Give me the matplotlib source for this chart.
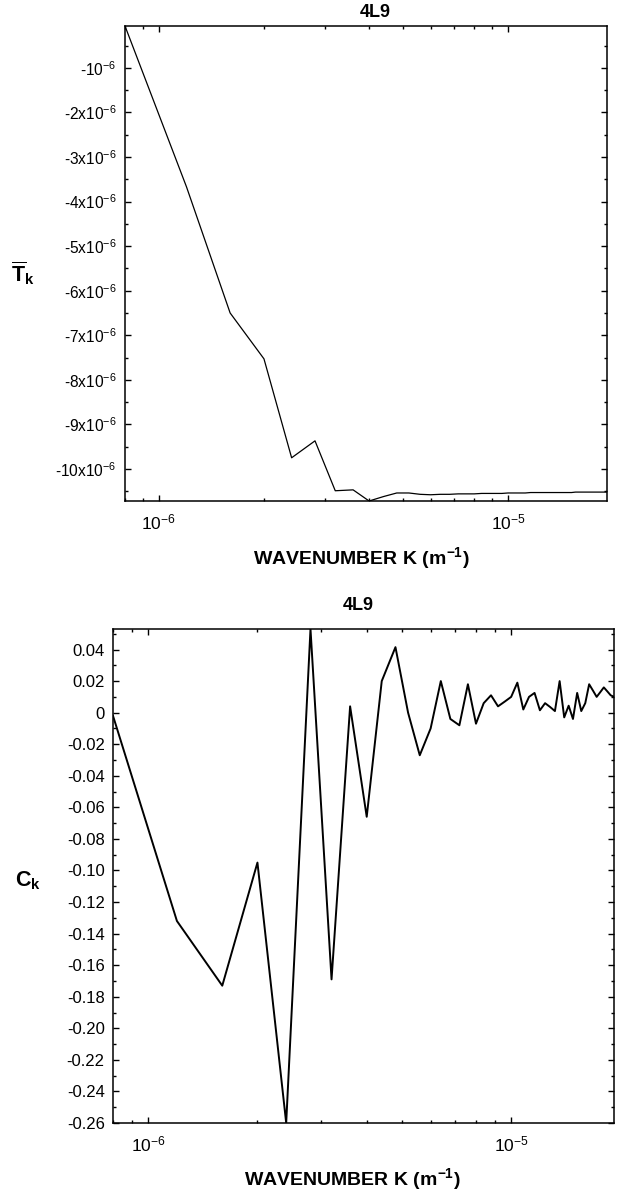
import numpy as np
import matplotlib
matplotlib.use('Agg')

import matplotlib.pyplot as plt
from matplotlib.ticker import MultipleLocator, FuncFormatter, LogLocator, NullFormatter

plt.rcParams['font.family'] = ['Liberation Sans', 'DejaVu Sans']
plt.rcParams['mathtext.fontset'] = 'custom'
plt.rcParams['mathtext.rm'] = 'Liberation Sans'
plt.rcParams['mathtext.bf'] = 'Liberation Sans:bold'
plt.rcParams['mathtext.default'] = 'regular'
plt.rcParams['axes.unicode_minus'] = False

# --- Data (wavenumber in units of 1e-6 m^-1) ---
wavenumber = [0.8, 1.2, 1.6, 2.0, 2.4, 2.8, 3.2, 3.6, 4.0, 4.4,
              4.8, 5.2, 5.6, 6.0, 6.4, 6.8, 7.2, 7.6, 8.0, 8.4,
              8.8, 9.2, 9.6, 10.0, 10.4, 10.8, 11.2, 11.6, 12.0, 12.4,
              12.8, 13.2, 13.6, 14.0, 14.4, 14.8, 15.2, 15.6, 16.0, 16.4,
              16.8, 17.2, 17.6, 18.0, 18.4, 18.8, 19.2]

# mean transfer T_k, units of 1e-6
t_mean = [-0.06, -3.67, -6.50, -7.53, -9.75, -9.37, -10.49, -10.47, -10.72, -10.62,
          -10.54, -10.54, -10.57, -10.58, -10.57, -10.57, -10.56, -10.56, -10.56, -10.55,
          -10.55, -10.55, -10.55, -10.54, -10.54, -10.54, -10.54, -10.53, -10.53, -10.53,
          -10.53, -10.53, -10.53, -10.53, -10.53, -10.53, -10.53, -10.52, -10.52, -10.52,
          -10.52, -10.52, -10.52, -10.52, -10.52, -10.52, -10.52]

# correlation C_k
c_k = [-0.002, -0.132, -0.173, -0.095, -0.260, 0.053, -0.169, 0.004, -0.066, 0.020,
       0.0415, 0.000, -0.027, -0.010, 0.020, -0.004, -0.008, 0.018, -0.007, 0.006,
       0.011, 0.004, 0.007, 0.010, 0.019, 0.002, 0.010, 0.0125, 0.0015, 0.006,
       0.0036, 0.001, 0.020, -0.003, 0.0044, -0.004, 0.0125, 0.001, 0.006, 0.018,
       0.014, 0.010, 0.013, 0.016, 0.0135, 0.011, 0.010]

title = '4L9'
xlabel = 'WAVENUMBER K (m$^{-1}$)'

k = np.array(wavenumber) * 1e-6
t = np.array(t_mean) * 1e-6
c = np.array(c_k)

W, H = 617, 1191
fig = plt.figure(figsize=(W / 100, H / 100), dpi=100)


def px_axes(left, right, top, bottom):
    return fig.add_axes([left / W, 1 - bottom / H, (right - left) / W, (bottom - top) / H])


def style_axes(ax, ysize):
    ax.set_xscale('log')
    ax.set_xlim(k.min(), k.max())
    ax.xaxis.set_major_locator(LogLocator(base=10))
    ax.xaxis.set_minor_locator(LogLocator(base=10, subs=np.arange(2, 10)))
    ax.xaxis.set_minor_formatter(NullFormatter())
    ax.tick_params(which='both', direction='in', top=True, right=True, width=1.0)
    ax.tick_params(which='major', length=4.5)
    ax.tick_params(which='minor', length=2.5)
    ax.tick_params(axis='x', which='major', labelsize=12.5, pad=8)
    ax.tick_params(axis='y', which='major', labelsize=ysize, pad=6)
    for s in ax.spines.values():
        s.set_linewidth(1.1)


def t_fmt(v, pos):
    n = int(round(-v / 1e-6))
    if n == 1:
        return '-10$^{-6}$'
    return '-%dx10$^{-6}$' % n


def c_fmt(v, pos):
    if abs(v) < 1e-9:
        return '0'
    return '%.2f' % v


# top panel: mean transfer
ax1 = px_axes(125, 607, 26, 501)
ax1.plot(k, t, color='black', lw=0.9)
style_axes(ax1, 11.2)
ax1.set_ylim(t.min(), t.max())
ax1.yaxis.set_major_locator(MultipleLocator(1e-6))
ax1.yaxis.set_minor_locator(MultipleLocator(0.5e-6))
ax1.yaxis.set_major_formatter(FuncFormatter(t_fmt))
ax1.text(0.52, 1.01, title, transform=ax1.transAxes, ha='center', va='bottom',
         fontsize=13, fontweight='bold')
ax1.set_xlabel(xlabel, fontsize=14, fontweight='bold')
ax1.xaxis.set_label_coords(0.49, -0.092)
ax1.set_ylabel(r'$\overline{\mathbf{T}}_{\mathbf{k}}$', fontsize=15.5, rotation=0,
               ha='center', va='center')
ax1.yaxis.set_label_coords(-0.212, 0.48)

# bottom panel: correlation
ax2 = px_axes(113, 614, 629, 1123)
ax2.plot(k, c, color='black', lw=1.4)
style_axes(ax2, 12)
ax2.set_ylim(c.min(), c.max())
ax2.yaxis.set_major_locator(MultipleLocator(0.02))
ax2.yaxis.set_minor_locator(MultipleLocator(0.01))
ax2.yaxis.set_major_formatter(FuncFormatter(c_fmt))
ax2.text(0.489, 1.03, title, transform=ax2.transAxes, ha='center', va='bottom',
         fontsize=13, fontweight='bold')
ax2.set_xlabel(xlabel, fontsize=14, fontweight='bold')
ax2.xaxis.set_label_coords(0.477, -0.087)
ax2.set_ylabel(r'$\mathbf{C}_{\mathbf{k}}$', fontsize=15.5, rotation=0,
               ha='center', va='center')
ax2.yaxis.set_label_coords(-0.17, 0.49)

fig.savefig('out.png', dpi=100)
plt.close(fig)
